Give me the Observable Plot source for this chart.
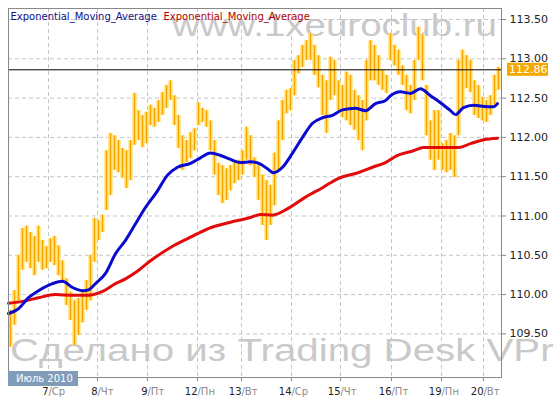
<!DOCTYPE html>
<html><head><meta charset="utf-8">
<script src="https://cdn.jsdelivr.net/npm/d3@7"></script>
<script src="https://cdn.jsdelivr.net/npm/@observablehq/plot@0.6"></script>
<style>
html,body{margin:0;padding:0;background:#fff;}
#chart{width:555px;height:407px;overflow:hidden;}
</style></head><body><div id="chart"></div>
<script>
// Hourly-ish candles (2-bar steps), high and low prices
const highs = [
109.80,110.05,110.50,110.84,110.87,110.79,110.74,110.87,110.69,110.61,
110.71,110.74,110.62,110.43,110.20,110.03,109.92,109.95,110.05,110.18,
110.50,110.97,110.94,111.01,111.83,112.05,112.02,111.96,111.86,111.83,
111.96,112.56,112.34,112.28,112.32,112.41,112.37,112.47,112.57,112.66,
112.72,112.53,112.28,112.02,111.96,112.06,112.11,112.44,112.37,112.34,
112.21,111.96,111.67,111.64,111.60,111.64,111.68,111.71,111.83,112.13,
112.02,111.74,111.64,111.52,111.45,111.39,111.80,112.21,112.47,112.60,
112.62,112.98,113.04,113.17,113.23,113.32,113.17,113.04,112.79,112.72,
113.02,112.98,112.72,112.66,112.83,112.79,112.60,112.53,112.47,112.98,
113.23,113.17,113.04,112.85,112.79,113.32,113.17,113.11,112.91,112.79,
112.66,112.98,113.40,113.30,112.66,112.21,112.34,112.34,111.92,111.96,
112.05,112.02,112.98,113.11,113.04,112.98,112.72,112.66,112.51,112.47,
112.53,112.79,112.89];
const lows = [
109.33,109.61,109.92,110.31,110.41,110.33,110.24,110.41,110.31,110.33,
110.41,110.37,110.24,110.15,109.86,109.67,109.35,109.48,109.64,109.80,
109.92,110.41,110.69,110.79,111.07,111.26,111.58,111.55,111.48,111.35,
111.45,111.90,111.96,111.87,111.92,112.15,112.13,112.19,112.28,112.37,
112.47,112.15,111.86,111.58,111.68,111.73,111.83,112.15,112.19,112.13,
111.83,111.52,111.26,111.16,111.20,111.32,111.41,111.45,111.52,111.71,
111.64,111.49,111.20,110.88,110.69,110.88,111.13,111.58,111.96,112.30,
112.34,112.53,112.81,112.89,112.98,112.98,112.79,112.63,112.28,112.05,
112.47,112.53,112.34,112.25,112.21,112.15,112.09,111.96,111.83,112.21,
112.72,112.72,112.66,112.60,112.56,112.98,112.91,112.79,112.66,112.34,
112.30,112.47,112.98,112.72,112.02,111.71,111.58,111.71,111.58,111.55,
111.58,111.49,112.02,112.38,112.62,112.57,112.28,112.24,112.21,112.19,
112.28,112.41,112.60];

// Fast EMA (blue)
const blueX = [0,2.5,5,7.5,11,13.5,16,18.5,20,21.75,24.25,26.75,29.25,31.75,33.75,37.25,39.75,42.25,45.5,48,
50.5,53,55.5,58,60.5,63,64.75,66.25,68.5,71,73.5,76,78.5,81,83.5,86.75,89.25,91.75,94.25,95.5,
98,100.5,103,105.5,108,110.5,111.75,113.75,116.25,119.75,121.25,122.25];
const blueY = [109.76,109.82,109.96,110.05,110.14,110.17,110.09,110.05,110.06,110.14,110.27,110.52,110.69,110.90,111.07,111.32,111.52,111.62,111.67,111.74,
111.80,111.77,111.72,111.68,111.69,111.66,111.60,111.55,111.62,111.80,112.00,112.18,112.25,112.28,112.35,112.37,112.34,112.43,112.47,112.53,
112.58,112.56,112.62,112.53,112.44,112.34,112.29,112.38,112.41,112.39,112.39,112.43];

// Slow EMA (red)
const redX = [0,4.25,7.5,11.75,16,20,23.5,26.75,29.25,31.75,35.5,40.5,45.5,50.5,55.5,60.5,63,66,70,74.25,
78.5,82.5,86.75,91,94.25,97.25,101.25,103.75,112.25,115.5,118.75,122.25];
const redY = [109.89,109.92,109.96,110.00,109.99,109.99,110.04,110.14,110.20,110.28,110.43,110.60,110.73,110.85,110.92,110.98,111.02,111.01,111.10,111.24,
111.36,111.48,111.54,111.62,111.68,111.77,111.83,111.87,111.87,111.92,111.97,111.99];

const dayTicks = [10,22.25,34.75,47.25,58.25,70.75,83,95.75,108.25,118.75];
const dayNums  = ["7","8","9","12","13","14","15","16","19","20"];
const dayNames = ["Ср","Чт","Пт","Пн","Вт","Ср","Чт","Пт","Пн","Вт"];
const yTicks = [109.5,110,110.5,111,111.5,112,112.5,113,113.5];
const lastPrice = 112.86;
const seriesNames = ["Exponential_Moving_Average","Exponential_Moving_Average"];
const monthLabel = "Июль 2010";
const watermarkTop = "www.1xeuroclub.ru";
const watermarkBottom = "Сделано из Trading Desk VPro";

const candles = highs.map((h,i)=>({x:i+0.5, hi:h, lo:lows[i]}));
const blue = blueX.map((x,i)=>({x, y:blueY[i]}));
const red = redX.map((x,i)=>({x, y:redY[i]}));
const days = dayTicks.map((t,i)=>({x:t, num:dayNums[i], name:"/"+dayNames[i]}));

const chart = Plot.plot({
  width:555, height:407,
  marginLeft:8, marginRight:54, marginTop:8, marginBottom:30,
  x:{domain:[0,123.25], axis:null, label:null},
  y:{domain:[108.945,113.64], axis:null, label:null},
  style:{fontFamily:"DejaVu Sans", fontSize:"11px", background:"#fff", color:"#222"},
  marks:[
    Plot.ruleY(yTicks, {stroke:"#c6c6c6", strokeDasharray:"4,3"}),
    Plot.ruleX(dayTicks, {stroke:"#c6c6c6", strokeDasharray:"4,3"}),
    Plot.ruleX(candles, {x:"x", y1:"lo", y2:"hi", stroke:"#ffe47a", strokeWidth:4.4}),
    Plot.ruleX(candles, {x:"x", y1:"lo", y2:"hi", stroke:"#f5a300", strokeWidth:1.4}),
    Plot.line(red, {x:"x", y:"y", stroke:"#e20a0a", strokeWidth:3, curve:"monotone-x"}),
    Plot.line(blue, {x:"x", y:"y", stroke:"#0a0ad0", strokeWidth:3, curve:"monotone-x"}),
    Plot.ruleY([lastPrice], {stroke:"#000", strokeWidth:1}),
    Plot.frame({stroke:"#888"}),
    Plot.axisY(yTicks, {anchor:"right", tickSize:4, tickPadding:4, stroke:"#888", color:"#222",
      tickFormat:d=>d.toFixed(2), fontSize:11, label:null}),
    Plot.axisX(dayTicks, {anchor:"bottom", tickSize:4, stroke:"#888", tickFormat:()=>"", label:null}),
    Plot.text(days, {x:"x", text:"num", frameAnchor:"bottom", dy:17, textAnchor:"end", fill:"#222", fontSize:10}),
    Plot.text(days, {x:"x", text:"name", frameAnchor:"bottom", dy:17, textAnchor:"start", fill:"#8a8a8a", fontSize:10}),
    Plot.text([seriesNames[0]], {frameAnchor:"top-left", dx:2, dy:8, textAnchor:"start", lineAnchor:"middle", fill:"#10108a", fontSize:10}),
    Plot.text([seriesNames[1]], {frameAnchor:"top-left", dx:155, dy:8, textAnchor:"start", lineAnchor:"middle", fill:"#b00000", fontSize:10})
  ]
});

const svg = d3.select(chart);
const xs = chart.scale("x"), ys = chart.scale("y");
const fx0 = xs.range[0], fx1 = xs.range[1];
const fyBottom = ys.range[0], fyTop = ys.range[1];

// watermarks below the data
const wm = svg.insert("g", "g").attr("font-family", "Liberation Sans, Arial, sans-serif")
  .attr("fill", "#c9c9c9").attr("text-anchor", "start");
wm.append("text").attr("x", fx0 + 164).attr("y", fyTop + 28).attr("font-size", 31)
  .attr("textLength", 325).attr("lengthAdjust", "spacingAndGlyphs").text(watermarkTop);
wm.append("text").attr("x", fx0 + 2).attr("y", fyBottom - 16).attr("font-size", 31)
  .attr("textLength", 566).attr("lengthAdjust", "spacingAndGlyphs").text(watermarkBottom);

// last price label
const py = ys.apply(lastPrice);
svg.append("rect").attr("x", fx1 + 6).attr("y", py - 6.5).attr("width", 41).attr("height", 13).attr("fill", "#f5a800");
svg.append("text").attr("x", fx1 + 8).attr("y", py).attr("dy", "0.36em").attr("fill", "#fff")
  .attr("text-anchor", "start").attr("font-size", 11).text(lastPrice.toFixed(2));

// month box
svg.append("rect").attr("x", fx0).attr("y", fyBottom - 6).attr("width", 70).attr("height", 15).attr("fill", "#7f9db9");
svg.append("text").attr("x", fx0 + 8).attr("y", fyBottom + 1.5).attr("dy", "0.36em").attr("fill", "#fff")
  .attr("text-anchor", "start").attr("font-size", 10).text(monthLabel);

document.getElementById("chart").appendChild(chart);
</script></body></html>
